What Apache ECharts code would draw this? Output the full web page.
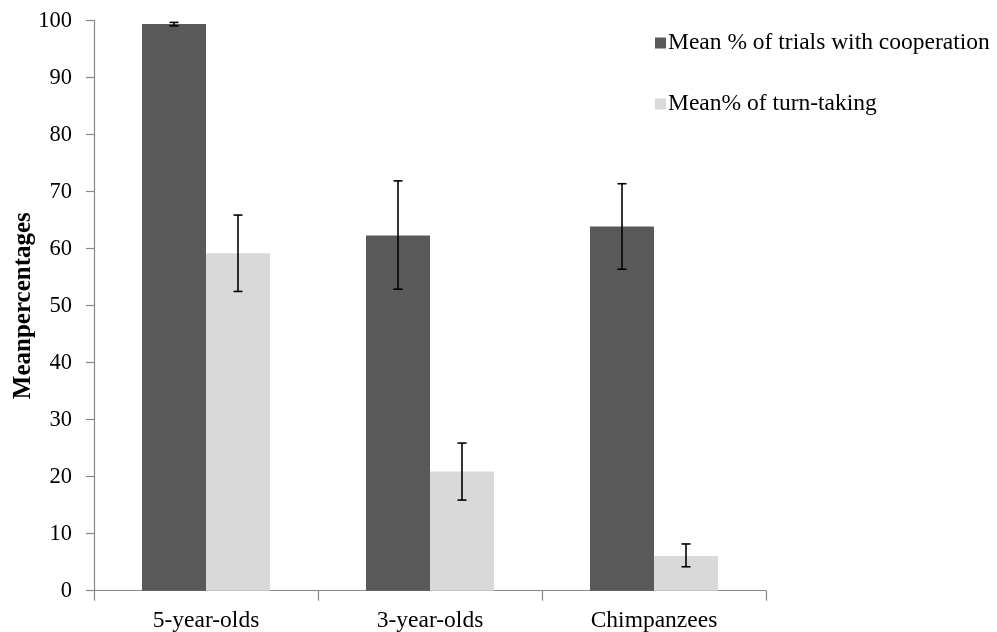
<!DOCTYPE html>
<html>
<head>
<meta charset="utf-8">
<script src="https://cdn.jsdelivr.net/npm/echarts@6/dist/echarts.min.js"></script>
<style>html,body{margin:0;padding:0;background:#fff;}#c{width:997px;height:632px;}</style>
</head>
<body>
<div id="c"></div>
<script>
var categories = ['5-year-olds', '3-year-olds', 'Chimpanzees'];
var coopMean = [99.4, 62.3, 63.9];
var coopLow = [99.1, 52.9, 56.4];
var coopHigh = [99.7, 71.9, 71.4];
var turnMean = [59.2, 20.9, 6.1];
var turnLow = [52.5, 15.9, 4.2];
var turnHigh = [65.9, 25.9, 8.2];
var seriesNames = ['Mean % of trials with cooperation', 'Mean% of turn-taking'];
var yTicks = { min: 0, max: 100, interval: 10 };

var FONT = '"Liberation Serif", "Times New Roman", serif';
var chart = echarts.init(document.getElementById('c'), null, { renderer: 'canvas' });

function errData(low, high) {
  return categories.map(function (c, i) { return [i, low[i], high[i]]; });
}
function errRender(offset) {
  return function (params, api) {
    var lo = api.coord([api.value(0), api.value(1)]);
    var hi = api.coord([api.value(0), api.value(2)]);
    var bw = api.size([1, 0])[0];
    var x = lo[0] + offset * bw;
    var cap = 4.5;
    var style = { stroke: '#000', lineWidth: 1.6 };
    return {
      type: 'group',
      children: [
        { type: 'line', shape: { x1: x, y1: hi[1], x2: x, y2: lo[1] }, style: style },
        { type: 'line', shape: { x1: x - cap, y1: hi[1], x2: x + cap, y2: hi[1] }, style: style },
        { type: 'line', shape: { x1: x - cap, y1: lo[1], x2: x + cap, y2: lo[1] }, style: style }
      ]
    };
  };
}

var barOffsetFrac = 32 / 224;

chart.setOption({
  animation: false,
  backgroundColor: '#fff',
  grid: { left: 94, right: 231, top: 20.7, bottom: 41.3, containLabel: false, outerBoundsMode: 'none' },
  legend: {
    orient: 'vertical',
    left: 650,
    top: 26,
    itemWidth: 11,
    itemHeight: 11,
    itemGap: 37,
    icon: 'rect',
    data: seriesNames,
    textStyle: { fontFamily: FONT, fontSize: 23.5, color: '#000', lineHeight: 24, padding: [0, 0, 0, -3] }
  },
  xAxis: {
    type: 'category',
    data: categories,
    boundaryGap: true,
    axisLine: { show: true, lineStyle: { color: '#888', width: 1.2 } },
    axisTick: { show: true, length: 10, interval: 0, alignWithLabel: false, lineStyle: { color: '#888', width: 1.2 } },
    axisLabel: { fontFamily: FONT, fontSize: 23.5, color: '#000', margin: 18 },
    splitLine: { show: false }
  },
  yAxis: {
    type: 'value',
    min: yTicks.min,
    max: yTicks.max,
    interval: yTicks.interval,
    name: 'Meanpercentages',
    nameLocation: 'middle',
    nameGap: 58,
    nameMoveOverlap: false,
    nameTextStyle: { fontFamily: FONT, fontSize: 25, fontWeight: 'bold', color: '#000' },
    axisLine: { show: true, lineStyle: { color: '#888', width: 1.2 } },
    axisTick: { show: true, length: 8, lineStyle: { color: '#888', width: 1.2 } },
    axisLabel: { fontFamily: FONT, fontSize: 22.5, color: '#000', margin: 22 },
    splitLine: { show: false }
  },
  series: [
    {
      name: seriesNames[0], type: 'bar', data: coopMean, barWidth: 64, barGap: '0%',
      itemStyle: { color: '#595959' }
    },
    {
      name: seriesNames[1], type: 'bar', data: turnMean, barWidth: 64, barGap: '0%',
      itemStyle: { color: '#d9d9d9' }
    },
    {
      type: 'custom', name: 'errCoop', data: errData(coopLow, coopHigh),
      renderItem: errRender(-barOffsetFrac), z: 10, silent: true,
      encode: { x: 0, y: [1, 2] }
    },
    {
      type: 'custom', name: 'errTurn', data: errData(turnLow, turnHigh),
      renderItem: errRender(barOffsetFrac), z: 10, silent: true,
      encode: { x: 0, y: [1, 2] }
    }
  ]
});
</script>
</body>
</html>
